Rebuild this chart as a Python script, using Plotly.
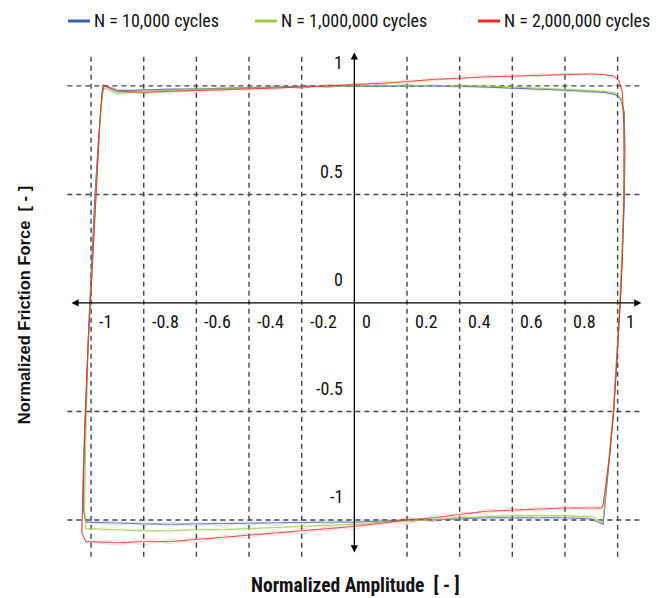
import plotly.graph_objects as go

# ---------------- data ----------------
x_ticks = [-1, -0.8, -0.6, -0.4, -0.2, 0, 0.2, 0.4, 0.6, 0.8, 1]
x_tick_labels = ["-1", "-0.8", "-0.6", "-0.4", "-0.2", "0", "0.2", "0.4", "0.6", "0.8", "1"]
y_ticks = [1, 0.5, 0, -0.5, -1]
y_tick_labels = ["1", "0.5", "0", "-0.5", "-1"]

series_names = ["N = 10,000 cycles", "N = 1,000,000 cycles", "N = 2,000,000 cycles"]
series_colors = ["#3F5FAD", "#9DC93F", "#EE2B2B"]

x_grid = [-0.9, -0.8, -0.7, -0.6, -0.5, -0.4, -0.3, -0.2, -0.1, 0.0,
          0.1, 0.2, 0.3, 0.4, 0.5, 0.6, 0.7, 0.8, 0.9]

# N = 10,000
blue_left_x = [-1.02, -1.03, -1.025, -1.015, -1.005, -0.995, -0.985, -0.972, -0.962, -0.955]
blue_left_y = [-1.01, -0.95, -0.6, -0.25, 0.0, 0.25, 0.5, 0.75, 0.93, 1.005]
blue_right_x = [0.95, 0.99, 1.012, 1.025, 1.028, 1.025, 1.018, 1.01, 0.998, 0.985, 0.97, 0.958, 0.948, 0.945]
blue_right_y = [0.97, 0.96, 0.94, 0.88, 0.7, 0.45, 0.2, 0.0, -0.25, -0.5, -0.7, -0.85, -0.97, -1.02]
blue_top = [
    [0.978, 0.982, 0.985, 0.986, 0.99, 0.992, 0.995, 0.997, 0.998, 1.0, 1.0, 1.001, 1.0, 0.999, 0.995, 0.99, 0.985, 0.98, 0.975],
    [0.985, 0.975, 0.99, 0.98, 0.995, 0.985, 1.0, 0.99, 1.005, 0.995, 1.005, 0.995, 1.005, 0.99, 1.0, 0.985, 0.99, 0.975, 0.97],
    [0.97, 0.985, 0.978, 0.992, 0.985, 0.998, 0.99, 1.003, 0.993, 1.006, 0.996, 1.006, 0.996, 1.004, 0.99, 0.995, 0.98, 0.985, 0.968],
]
blue_bottom = [
    [-1.015, -1.018, -1.02, -1.02, -1.018, -1.015, -1.015, -1.012, -1.01, -1.01, -1.005, -1.0, -1.0, -0.995, -0.99, -0.99, -0.99, -0.99, -0.995],
    [-1.005, -1.025, -1.01, -1.03, -1.005, -1.025, -1.0, -1.02, -1.0, -1.015, -0.995, -1.01, -0.99, -1.0, -0.98, -0.995, -0.98, -1.0, -0.985],
    [-1.025, -1.005, -1.03, -1.01, -1.028, -1.005, -1.025, -1.0, -1.02, -0.995, -1.015, -0.99, -1.008, -0.985, -1.0, -0.98, -0.998, -0.978, -1.0],
]

# N = 1,000,000
green_left_x = [-1.02, -1.025, -1.02, -1.012, -1.003, -0.993, -0.982, -0.97, -0.96, -0.952]
green_left_y = [-1.04, -0.95, -0.6, -0.25, 0.0, 0.25, 0.5, 0.75, 0.93, 0.99]
green_right_x = [0.95, 0.99, 1.012, 1.022, 1.026, 1.023, 1.016, 1.008, 0.996, 0.983, 0.968, 0.956, 0.947, 0.944]
green_right_y = [0.975, 0.968, 0.948, 0.89, 0.7, 0.45, 0.2, 0.0, -0.25, -0.5, -0.7, -0.85, -0.97, -1.01]
green_top = [
    [0.965, 0.975, 0.98, 0.985, 0.988, 0.99, 0.993, 0.996, 0.998, 1.0, 1.002, 1.003, 1.003, 1.002, 1.0, 0.995, 0.99, 0.985, 0.98],
    [0.955, 0.985, 0.972, 0.99, 0.98, 0.995, 0.988, 1.0, 0.993, 1.006, 0.998, 1.008, 0.998, 1.007, 0.995, 1.0, 0.985, 0.99, 0.975],
    [0.975, 0.962, 0.988, 0.978, 0.994, 0.984, 0.998, 0.99, 1.004, 0.995, 1.008, 0.998, 1.008, 0.996, 1.005, 0.99, 0.995, 0.98, 0.985],
]
green_bottom = [
    [-1.045, -1.05, -1.05, -1.045, -1.045, -1.04, -1.035, -1.03, -1.025, -1.02, -1.01, -1.005, -1.0, -0.99, -0.985, -0.98, -0.98, -0.98, -0.985],
    [-1.035, -1.06, -1.04, -1.055, -1.035, -1.05, -1.025, -1.04, -1.015, -1.03, -1.0, -1.015, -0.99, -1.0, -0.975, -0.99, -0.97, -0.99, -0.975],
    [-1.055, -1.04, -1.06, -1.035, -1.055, -1.03, -1.045, -1.02, -1.035, -1.01, -1.02, -0.995, -1.01, -0.98, -0.995, -0.97, -0.99, -0.975, -0.995],
]

# N = 2,000,000
red_left_x = [-1.02, -1.035, -1.03, -1.02, -1.01, -1.0, -0.99, -0.978, -0.966, -0.958, -0.95]
red_left_y = [-1.1, -1.06, -0.8, -0.45, -0.15, 0.05, 0.3, 0.6, 0.85, 0.97, 1.0]
red_right_x = [0.95, 0.985, 1.005, 1.018, 1.024, 1.024, 1.018, 1.01, 0.998, 0.985, 0.97, 0.955, 0.945, 0.94]
red_right_y = [1.052, 1.045, 1.025, 0.97, 0.8, 0.5, 0.2, 0.0, -0.25, -0.5, -0.7, -0.85, -0.93, -0.945]
red_top = [
    [0.975, 0.97, 0.975, 0.978, 0.982, 0.985, 0.99, 0.995, 1.0, 1.005, 1.012, 1.02, 1.03, 1.035, 1.042, 1.045, 1.05, 1.052, 1.055],
    [0.965, 0.982, 0.965, 0.985, 0.975, 0.993, 0.982, 1.003, 0.993, 1.013, 1.005, 1.028, 1.022, 1.043, 1.035, 1.053, 1.043, 1.06, 1.05],
    [0.985, 0.962, 0.983, 0.97, 0.99, 0.978, 0.997, 0.988, 1.007, 0.998, 1.02, 1.012, 1.037, 1.028, 1.05, 1.038, 1.057, 1.046, 1.06],
]
red_bottom = [
    [-1.105, -1.1, -1.1, -1.09, -1.08, -1.07, -1.06, -1.05, -1.04, -1.03, -1.015, -1.0, -0.99, -0.975, -0.96, -0.955, -0.95, -0.945, -0.945],
    [-1.095, -1.115, -1.09, -1.105, -1.07, -1.085, -1.05, -1.065, -1.03, -1.045, -1.005, -1.02, -0.98, -0.99, -0.95, -0.965, -0.94, -0.955, -0.935],
    [-1.115, -1.09, -1.11, -1.08, -1.09, -1.06, -1.07, -1.04, -1.05, -1.02, -1.025, -0.99, -1.0, -0.965, -0.97, -0.945, -0.96, -0.935, -0.955],
]

series = [
    (blue_left_x, blue_left_y, blue_top, blue_right_x, blue_right_y, blue_bottom),
    (green_left_x, green_left_y, green_top, green_right_x, green_right_y, green_bottom),
    (red_left_x, red_left_y, red_top, red_right_x, red_right_y, red_bottom),
]

# ---------------- figure ----------------
fig = go.Figure()

for (lx, ly, tops, rx, ry, bottoms), color in zip(series, series_colors):
    for k in range(len(tops) - 1, -1, -1):
        xs = list(lx) + list(x_grid) + list(rx) + list(reversed(x_grid)) + [lx[0]]
        ys = list(ly) + list(tops[k]) + list(ry) + list(reversed(bottoms[k])) + [ly[0]]
        main = (k == 0)
        fig.add_trace(go.Scatter(
            x=xs, y=ys, mode="lines",
            line=dict(color=color, width=1.0 if main else 0.7),
            opacity=0.8 if main else 0.3,
            showlegend=False, hoverinfo="skip",
        ))

XMIN, XMAX = -1.118, 1.123
YMIN, YMAX = -1.18, 1.207

shapes = []
grid_line = dict(color="#444444", width=1.4, dash="5px,4px")
for xv in x_ticks:
    if xv == 0:
        continue
    shapes.append(dict(type="line", xref="x", yref="y", x0=xv, x1=xv, y0=-1.17, y1=1.153,
                       line=grid_line, layer="below"))
for yv in y_ticks:
    if yv == 0:
        continue
    shapes.append(dict(type="line", xref="x", yref="y", x0=-1.09, x1=1.085, y0=yv, y1=yv,
                       line=grid_line, layer="below"))

narrow = "Roboto Condensed, Liberation Sans Narrow, Arial Narrow, Roboto, sans-serif"

# legend (manual)
legend_x = [0.0136, 0.3305, 0.7085]
LEG_Y = 1.0386
for nm, col, lx0 in zip(series_names, series_colors, legend_x):
    shapes.append(dict(type="line", xref="paper", yref="paper", x0=lx0, x1=lx0 + 0.0373,
                       y0=LEG_Y, y1=LEG_Y, line=dict(color=col, width=3)))

annotations = []
tick_font = dict(family=narrow, size=18, color="#111111")
for xv, lab in zip(x_ticks, x_tick_labels):
    annotations.append(dict(x=xv, y=0, xref="x", yref="y", text=lab, showarrow=False,
                            xanchor="left", yanchor="middle", xshift=6, yshift=-19, font=tick_font))
for yv, lab in zip(y_ticks, y_tick_labels):
    annotations.append(dict(x=0, y=yv, xref="x", yref="y", text=lab, showarrow=False,
                            xanchor="right", yanchor="middle", xshift=-9, yshift=23, font=tick_font))

for nm, lx0 in zip(series_names, legend_x):
    annotations.append(dict(x=lx0 + 0.0405, y=LEG_Y, xref="paper", yref="paper", text=nm,
                            showarrow=False, xanchor="left", yanchor="middle", yshift=1,
                            font=dict(family=narrow, size=18, color="#111111")))

# axes with arrows
annotations.append(dict(x=1.09, y=0, ax=-1.08, ay=0, xref="x", yref="y", axref="x", ayref="y",
                        text="", showarrow=True, arrowside="end+start", arrowhead=2,
                        arrowsize=1.1, arrowwidth=1.3, arrowcolor="#000000"))
annotations.append(dict(x=0, y=1.155, ax=0, ay=-1.157, xref="x", yref="y", axref="x", ayref="y",
                        text="", showarrow=True, arrowside="end+start", arrowhead=2,
                        arrowsize=1.1, arrowwidth=1.3, arrowcolor="#000000"))

annotations.append(dict(x=0.5, y=-0.051, xref="paper", yref="paper", text="<b>Normalized Amplitude  [ - ]</b>",
                        showarrow=False, xanchor="center", yanchor="middle",
                        font=dict(family=narrow, size=19.5, color="#111111")))
annotations.append(dict(x=-0.061, y=0.49, xref="paper", yref="paper", text="<b>Normalized Friction Force  [ - ]</b>",
                        showarrow=False, xanchor="center", yanchor="middle", textangle=-90,
                        font=dict(family="Liberation Sans, Arial, sans-serif", size=16.5, color="#111111")))

fig.update_layout(
    width=660, height=598,
    margin=dict(l=52, r=18, t=33, b=47, autoexpand=False),
    paper_bgcolor="white", plot_bgcolor="white",
    xaxis=dict(range=[XMIN, XMAX], showgrid=False, zeroline=False, showticklabels=False,
               showline=False, ticks=""),
    yaxis=dict(range=[YMIN, YMAX], showgrid=False, zeroline=False, showticklabels=False,
               showline=False, ticks=""),
    shapes=shapes, annotations=annotations, showlegend=False,
)

fig.write_html("out.html")
